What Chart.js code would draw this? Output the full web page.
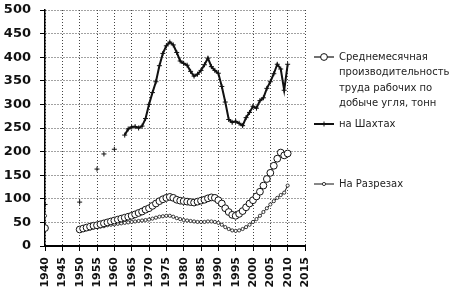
<!DOCTYPE html>
<html>
<head>
<meta charset="utf-8">
<script src="https://cdn.jsdelivr.net/npm/chart.js@4/dist/chart.umd.min.js"></script>
<style>
html, body { margin: 0; padding: 0; background: #fff; }
#wrap { width: 457px; height: 293px; }
</style>
</head>
<body>
<div id="wrap"><canvas id="first"></canvas></div>
<script>
const years = [1940,1941,1942,1943,1944,1945,1946,1947,1948,1949,
  1950,1951,1952,1953,1954,1955,1956,1957,1958,1959,
  1960,1961,1962,1963,1964,1965,1966,1967,1968,1969,
  1970,1971,1972,1973,1974,1975,1976,1977,1978,1979,
  1980,1981,1982,1983,1984,1985,1986,1987,1988,1989,
  1990,1991,1992,1993,1994,1995,1996,1997,1998,1999,
  2000,2001,2002,2003,2004,2005,2006,2007,2008,2009,2010];

// среднемесячная производительность (средняя линия, кружки)
const total = [38,null,null,null,null,null,null,null,null,null,
  35,37,39,41,43,44,46,48,50,52,
  54,56,58,60,62,64,67,70,73,77,
  80,85,90,95,99,102,104,102,98,96,
  95,94,93,92,94,96,98,101,103,102,
  97,90,80,72,66,64,68,74,82,90,
  97,105,115,128,142,155,170,185,198,192,196];

// на шахтах (верхняя линия)
const mines = [88,null,null,null,null,null,null,null,null,null,
  93,null,null,null,null,163,null,195,null,null,
  205,null,null,235,248,252,253,250,254,270,
  300,325,348,382,408,424,432,426,410,392,
  387,383,370,360,364,372,384,398,380,372,
  366,338,305,268,262,264,260,255,272,283,
  296,292,308,314,334,348,365,385,375,330,385];

// на разрезах (нижняя линия)
const pits = [64,null,null,null,null,null,null,null,null,null,
  33,34,36,37,39,40,41,42,44,45,
  46,47,48,49,50,51,52,53,54,55,
  56,58,60,62,63,64,64,62,59,57,
  55,54,53,52,51,51,51,52,52,51,
  49,45,40,36,33,32,33,36,40,45,
  51,57,64,72,80,88,95,102,108,113,128];

const seriesNames = [
  "Среднемесячная производительность труда рабочих по добыче угля, тонн",
  "на Шахтах",
  "На Разрезах"
];
const legendLines = [
  ["Среднемесячная", "производительность", "труда рабочих по", "добыче угля, тонн"],
  ["на Шахтах"],
  ["На Разрезах"]
];

function pts(vals) {
  return years.map((yr, i) => ({ x: yr, y: vals[i] }));
}

const sideLegend = {
  id: "sideLegend",
  afterDraw(chart) {
    const ctx = chart.ctx;
    const x0 = chart.chartArea.right + 9;
    const rows = [57, 124, 184];
    chart.data.datasets.forEach((ds, i) => {
      const y = rows[i];
      ctx.save();
      ctx.strokeStyle = ds.borderColor;
      ctx.lineWidth = ds.borderWidth;
      ctx.beginPath();
      ctx.moveTo(x0, y);
      ctx.lineTo(x0 + 20, y);
      ctx.stroke();
      ctx.fillStyle = ds.pointBackgroundColor;
      ctx.strokeStyle = ds.pointBorderColor;
      ctx.lineWidth = ds.pointBorderWidth;
      Chart.helpers.drawPoint(ctx, { pointStyle: ds.pointStyle, radius: ds.pointRadius, borderWidth: ds.pointBorderWidth, rotation: 0 }, x0 + 10, y);
      ctx.fillStyle = "#222";
      ctx.font = '10px "DejaVu Sans"';
      ctx.textBaseline = "middle";
      legendLines[i].forEach((t, j) => ctx.fillText(t, x0 + 25, y + j * 15.5));
      ctx.restore();
    });
  }
};

new Chart("first", {
  type: "line",
  data: {
    datasets: [{
      label: seriesNames[0],
      data: pts(total),
      borderColor: "#111",
      borderWidth: 1.2,
      pointStyle: "circle",
      pointRadius: 3.4,
      pointBorderWidth: 1,
      pointBackgroundColor: "#fff",
      pointBorderColor: "#111",
      tension: 0
    }, {
      label: seriesNames[1],
      data: pts(mines),
      borderColor: "#111",
      borderWidth: 2,
      pointStyle: "cross",
      pointRadius: 2.5,
      pointBorderWidth: 1,
      pointBackgroundColor: "#111",
      pointBorderColor: "#111",
      tension: 0
    }, {
      label: seriesNames[2],
      data: pts(pits),
      borderColor: "#111",
      borderWidth: 1,
      pointStyle: "circle",
      pointRadius: 1.6,
      pointBorderWidth: 0.8,
      pointBackgroundColor: "#fff",
      pointBorderColor: "#111",
      tension: 0
    }]
  },
  options: {
    animation: false,
    responsive: true,
    maintainAspectRatio: false,
    spanGaps: false,
    layout: { padding: { left: 0, right: 152, top: 10, bottom: 0 } },
    plugins: {
      legend: { display: false },
      tooltip: { enabled: false }
    },
    scales: {
      x: {
        type: "linear",
        min: 1940,
        max: 2015,
        afterFit(s) { s.height = 47; },
        ticks: {
          stepSize: 5,
          autoSkip: false,
          minRotation: 90,
          maxRotation: 90,
          padding: 6,
          color: "#111",
          font: { family: "DejaVu Sans", size: 11, weight: "bold" },
          callback: v => String(v)
        },
        grid: { color: "#444", lineWidth: 1, tickColor: "#000", tickLength: 5, tickBorderDash: [] },
        border: { color: "#000", width: 2, dash: [1, 2] }
      },
      y: {
        min: 0,
        max: 500,
        // fixed width, and no extra top/bottom room for the tick labels
        afterFit(s) { s.width = 45; s.paddingTop = 0; s.paddingBottom = 0; },
        ticks: {
          stepSize: 50,
          padding: 9,
          color: "#111",
          font: { family: "DejaVu Sans", size: 13, weight: "bold" },
          callback: v => String(v)
        },
        grid: { color: "#444", lineWidth: 1, tickColor: "#000", tickLength: 5, tickBorderDash: [] },
        border: { color: "#000", width: 1.5, dash: [1, 2] }
      }
    }
  },
  plugins: [sideLegend]
});
</script>
</body>
</html>
